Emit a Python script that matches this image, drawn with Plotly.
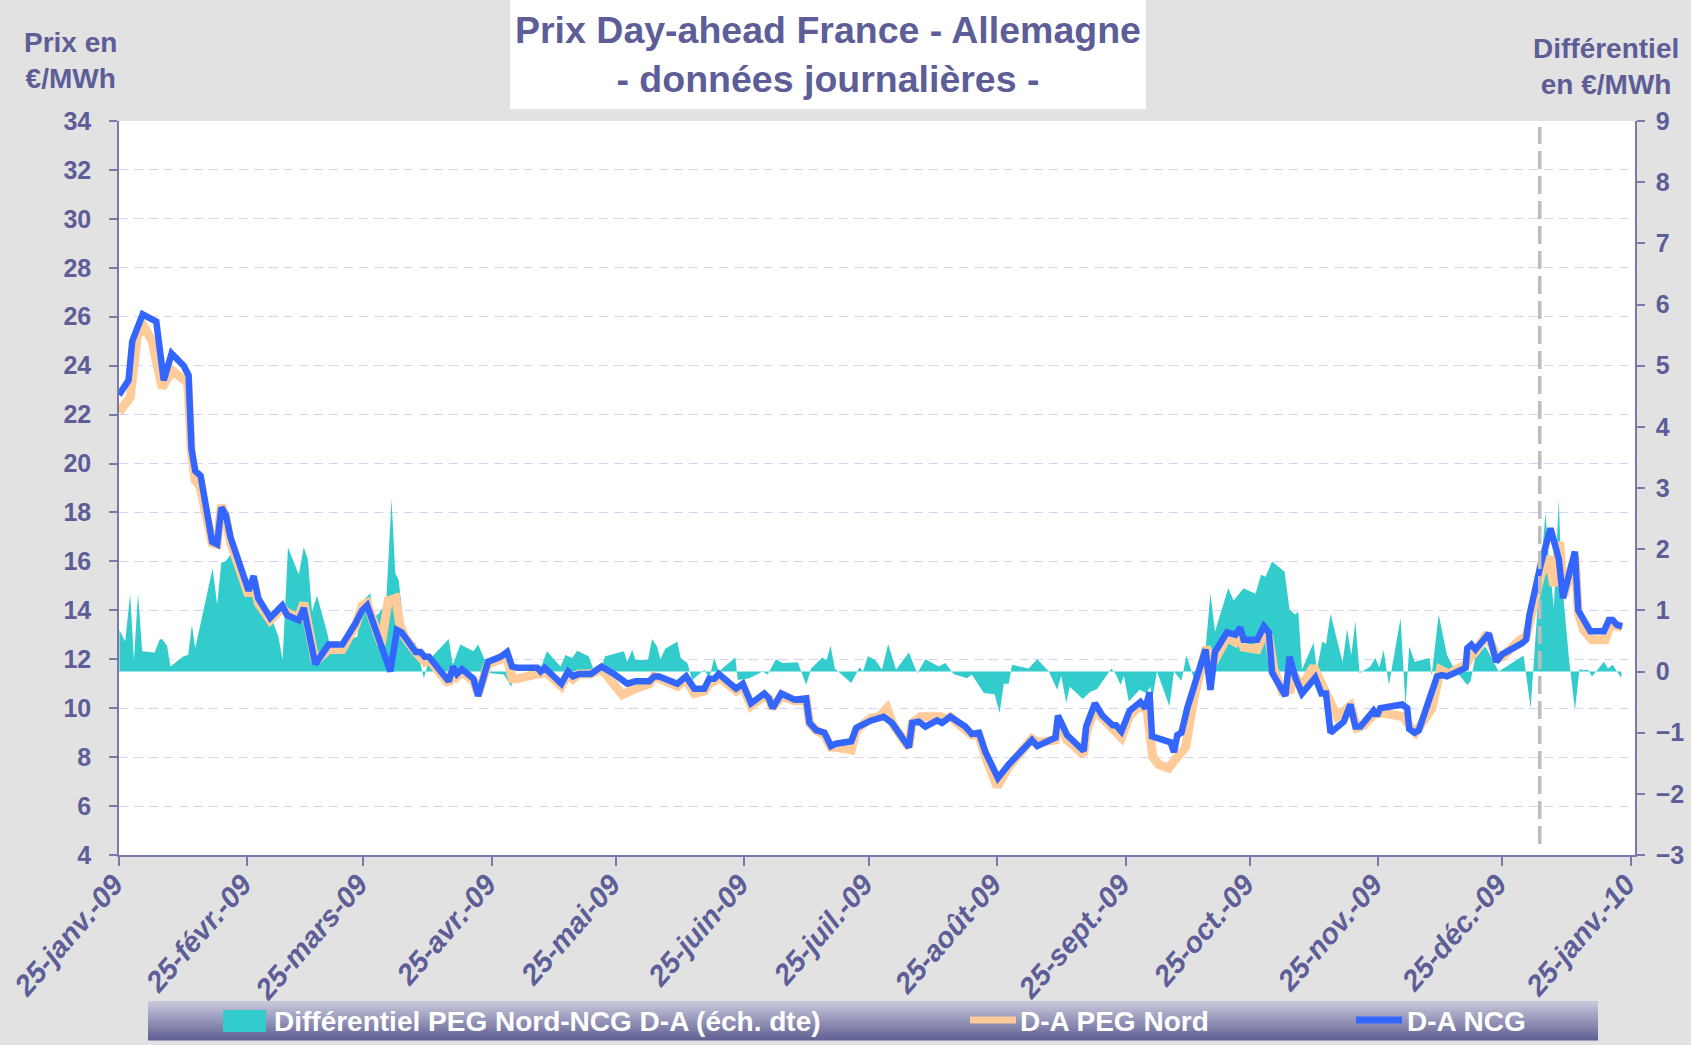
import pandas as pd
import plotly.graph_objects as go

# ---------------- data ----------------
START = "2009-01-25"          # day 0 of the offsets below
END = "2010-01-26"

ncg_day = [0.0, 1.1, 2.3, 3.2, 5.7, 9.0, 10.8, 12.7, 15.6, 16.8, 17.5, 18.4, 19.7, 22.5, 23.7, 24.7, 25.8, 26.9,
           29.1, 31.3, 32.5, 33.6, 36.5, 39.4, 40.6, 43.4, 44.6, 47.4, 50.6, 53.9, 57.2, 58.7, 59.9, 65.5, 67.1,
           68.2, 69.5, 71.6, 72.8, 73.8, 74.8, 79.6, 80.6, 81.6, 82.8, 85.6, 86.7, 87.6, 89.1, 92.1, 93.7, 94.9,
           96.1, 101.0, 101.8, 102.8, 104.2, 106.8, 108.4, 109.6, 111.0, 113.9, 116.5, 119.5, 122.7, 124.7, 128.0,
           129.2, 130.4, 134.8, 136.9, 138.9, 141.3, 142.5, 143.7, 144.8, 149.0, 150.6, 152.6, 155.8, 156.9, 157.8,
           159.9, 163.1, 165.9, 166.7, 168.3, 170.3, 171.9, 173.1, 176.8, 178.0, 180.4, 181.6, 184.6, 186.6, 190.7,
           191.5, 193.1, 194.7, 197.5, 198.7, 200.7, 204.3, 205.9, 207.6, 209.2, 212.2, 214.8, 220.4, 221.7, 226.1,
           226.7, 228.9, 232.9, 233.5, 235.6, 237.4, 239.9, 240.7, 242.0, 244.0, 246.6, 247.8, 248.8, 249.4, 253.9,
           254.7, 255.5, 256.5, 257.9, 260.3, 262.3, 263.5, 264.6, 267.5, 269.5, 270.7, 271.5, 274.8, 276.4, 277.6,
           278.4, 281.6, 282.6, 284.0, 285.6, 288.8, 290.3, 291.4, 292.5, 295.7, 297.3, 298.5, 299.7, 302.9, 303.7,
           304.5, 309.8, 311.0, 311.5, 312.8, 313.8, 318.2, 319.4, 320.6, 325.1, 325.5, 326.5, 327.5, 330.7, 332.5,
           333.9, 338.7, 339.7, 340.5, 343.2, 345.6, 347.6, 348.6, 351.5, 352.3, 353.2, 355.2, 358.5, 359.7, 360.6,
           361.7, 362.9]
ncg_val = [22.8, 23.1, 23.4, 25.0, 26.1, 25.8, 23.4, 24.5, 24.0, 23.6, 20.6, 19.7, 19.5, 16.8, 16.7, 18.2, 17.9, 17.0,
           15.9, 14.8, 15.4, 14.5, 13.7, 14.2, 13.8, 13.6, 14.1, 11.8, 12.6, 12.6, 13.5, 14.0, 14.2, 11.5, 13.2,
           13.1, 12.8, 12.3, 12.3, 12.1, 12.1, 11.1, 11.7, 11.4, 11.6, 11.2, 10.5, 11.0, 11.9, 12.1, 12.3, 11.7,
           11.65, 11.65, 11.5, 11.65, 11.4, 11.0, 11.5, 11.3, 11.4, 11.4, 11.7, 11.4, 11.0, 11.1, 11.1,
           11.3, 11.3, 11.0, 11.3, 10.8, 10.8, 11.2, 11.2, 11.4, 10.8, 11.0, 10.2, 10.6, 10.4, 10.0,
           10.6, 10.35, 10.4, 9.4, 9.1, 9.0, 8.45, 8.55, 8.65, 9.2, 9.4, 9.5, 9.65, 9.4, 8.4,
           9.4, 9.45, 9.25, 9.5, 9.4, 9.65, 9.25, 8.95, 9.0, 8.2, 7.15, 7.7, 8.7, 8.45, 8.8,
           9.7, 8.9, 8.25, 9.25, 10.2, 9.7, 9.3, 9.3, 9.05, 9.9, 10.25, 10.0, 10.65, 8.85, 8.6,
           8.2, 8.9, 9.0, 10.0, 11.25, 12.4, 10.75, 12.3, 13.1, 13.0, 13.3, 12.8, 12.8, 13.35, 13.1,
           11.45, 10.5, 12.1, 11.25, 10.6, 11.25, 10.6, 10.6, 9.0, 9.45, 10.15, 9.25, 9.25, 9.9, 9.7,
           10.0, 10.15, 10.0, 9.15, 9.0, 9.1, 11.3, 11.35, 11.3, 11.65, 12.45, 12.6, 12.4, 13.05, 11.9,
           12.2, 12.65, 12.8, 13.8, 15.85, 17.35, 16.1, 14.5, 16.4, 14.0, 13.7, 13.15, 13.15, 13.6, 13.6,
           13.4, 13.35]

peg_day = [0.0, 2.7, 4.4, 6.0, 8.0, 10.4, 12.8, 15.6, 16.6, 17.5, 18.4, 19.5, 22.5, 23.7, 24.7, 25.8, 26.9,
           29.1, 31.3, 32.5, 33.6, 36.5, 39.4, 40.6, 43.4, 44.6, 47.4, 50.6, 53.9, 57.2, 58.7, 59.9, 63.3, 65.0,
           66.8, 67.8, 69.0, 71.6, 72.8, 73.8, 74.8, 79.6, 80.6, 81.6, 82.8, 85.6, 86.7, 87.6, 89.1, 92.1, 93.7,
           94.9, 96.1, 101.0, 101.8, 102.8, 104.2, 106.8, 108.4, 109.6, 111.0, 113.9, 116.5, 119.5, 121.5, 124.7,
           128.0, 129.2, 130.4, 134.8, 136.9, 138.9, 141.3, 142.5, 143.7, 144.8, 149.0, 150.6, 152.6, 155.8, 156.9,
           157.8, 159.9, 163.1, 165.9, 166.7, 168.3, 170.3, 171.9, 173.1, 176.8, 178.0, 180.4, 181.6, 183.5, 185.4,
           186.8, 190.7, 191.5, 193.5, 198.4, 199.5, 200.7, 204.3, 205.9, 207.6, 209.2, 212.0, 214.8, 220.4, 221.7,
           226.1, 226.9, 228.9, 232.9, 233.5, 235.6, 237.4, 239.9, 240.7, 242.0, 244.0, 246.6, 248.2, 249.6, 251.0,
           253.4, 255.0, 256.3, 257.5, 259.5, 261.5, 262.5, 264.0, 265.0, 267.5, 269.5, 270.7, 271.5, 274.8, 276.4,
           277.6, 278.8, 280.8, 282.8, 283.6, 285.6, 288.4, 290.9, 294.1, 297.3, 298.9, 300.5, 302.9, 305.3, 310.2,
           311.8, 313.0, 317.0, 319.0, 321.0, 325.3, 326.3, 327.5, 330.3, 332.7, 334.0, 338.3, 339.7, 340.5, 343.2,
           345.2, 346.4, 347.8, 348.8, 351.5, 352.3, 353.6, 355.6, 358.8, 359.8, 361.0, 362.9]
peg_val = [22.1, 22.7, 25.2, 25.6, 25.0, 23.1, 23.8, 23.5, 23.3, 20.4, 19.3, 19.1, 16.75, 16.7, 18.3, 17.8, 16.8,
           15.7, 14.6, 15.2, 14.3, 13.6, 14.1, 13.9, 13.7, 14.3, 11.9, 12.4, 12.4, 13.4, 14.2, 14.3, 12.6, 14.4,
           14.5, 13.4, 12.9, 12.3, 12.1, 11.9, 12.0, 11.0, 11.6, 11.3, 11.5, 11.1, 10.6, 11.0, 11.8, 12.0, 12.1,
           11.2, 11.2, 11.4, 11.4, 11.5, 11.3, 10.9, 11.4, 11.2, 11.4, 11.4, 11.6, 11.0, 10.55, 10.8,
           11.0, 11.3, 11.2, 10.9, 11.2, 10.6, 10.7, 11.0, 11.1, 11.3, 10.7, 10.9, 10.1, 10.5, 10.4,
           10.0, 10.5, 10.3, 10.35, 9.4, 9.1, 8.9, 8.4, 8.4, 8.3, 9.1, 9.45, 9.6, 9.65, 10.0,
           9.35, 8.4, 9.4, 9.65, 9.65, 9.55, 9.65, 9.2, 8.9, 8.9, 8.0, 6.8, 7.6, 8.75, 8.6,
           8.7, 9.5, 8.7, 8.1, 9.0, 10.0, 9.6, 9.1, 9.0, 8.8, 9.7, 10.1, 9.9, 8.0, 7.7,
           7.55, 7.9, 8.2, 8.4, 10.4, 11.8, 12.5, 11.8, 12.1, 12.9, 12.7, 13.0, 12.5, 12.4, 13.1,
           12.9, 11.6, 10.7, 10.75, 11.4, 10.9, 11.7, 10.8, 9.66, 10.1, 9.2, 9.3, 9.75, 9.8, 9.65,
           9.2, 9.0, 10.0, 11.57, 11.4, 11.8, 12.1, 12.3, 13.06, 12.04, 12.1, 12.8, 12.9, 13.4, 15.4,
           16.2, 15.0, 16.8, 14.6, 16.2, 13.9, 13.2, 12.8, 12.8, 13.3, 13.4, 13.3]

diff_day = [0.1, 1.5, 2.7, 3.6, 4.6, 5.6, 8.6, 9.8, 10.4, 11.6, 12.4, 15.6, 16.7, 17.6, 18.4, 22.6, 23.7, 24.7,
            25.7, 26.9, 29.5, 33.0, 36.5, 38.5, 39.5, 40.8, 43.4, 44.6, 45.6, 46.6, 47.8, 50.2, 51.3, 53.9, 55.5,
            57.5, 59.1, 60.7, 61.3, 62.7, 64.5, 65.8, 66.7, 67.5, 69.1, 71.6, 73.6, 74.8, 79.6, 80.6, 82.4, 85.6,
            86.7, 88.5, 89.7, 92.9, 94.7, 95.5, 101.5, 103.3, 106.6, 107.8, 109.4, 110.6, 113.4, 114.6, 115.8,
            117.4, 121.9, 122.7, 123.9, 124.7, 127.7, 128.7, 129.9, 130.7, 131.9, 134.8, 135.6, 137.2, 138.4,
            141.3, 142.5, 143.7, 144.8, 148.8, 149.4, 152.2, 155.4, 156.6, 158.6, 160.2, 163.9, 165.9, 167.1,
            169.8, 170.8, 171.8, 172.8, 176.8, 178.8, 179.6, 180.8, 182.6, 184.2, 185.7, 187.6, 190.7, 192.7,
            194.7, 197.9, 199.5, 201.5, 204.7, 205.9, 208.8, 211.4, 212.6, 213.6, 214.8, 215.6, 219.6, 221.7,
            224.5, 226.5, 227.5, 228.7, 229.5, 232.7, 234.5, 236.1, 239.6, 240.7, 241.8, 242.6, 243.8, 246.4,
            248.0, 249.0, 249.4, 250.6, 253.6, 254.7, 256.5, 257.7, 259.5, 261.1, 262.3, 263.5, 264.6, 267.8,
            269.1, 271.5, 274.4, 275.7, 276.8, 278.4, 281.4, 282.6, 284.0, 284.7, 285.6, 288.4, 289.2, 290.5,
            291.4, 292.5, 295.4, 296.5, 297.5, 298.5, 299.5, 302.1, 303.3, 304.3, 305.3, 306.6, 309.4, 310.6,
            311.5, 312.8, 316.4, 316.9, 318.6, 320.6, 322.5, 325.5, 326.3, 327.5, 329.9, 333.1, 339.1, 340.8,
            342.6, 344.4, 345.2, 346.4, 347.6, 348.2, 350.0, 351.5, 352.6, 353.6, 354.7, 355.6, 358.5, 359.5,
            360.6, 362.7]
diff_val = [0.68, 0.49, 1.27, 0.19, 1.27, 0.33, 0.31, 0.52, 0.53, 0.42, 0.08, 0.25, 0.27, 0.76, 0.38, 1.69, 1.09, 1.78,
            1.80, 1.91, 1.60, 1.20, 0.93, 0.57, 0.19, 2.03, 1.58, 2.03, 1.83, 0.98, 1.24, 0.65, 0.30, 0.35, 0.52,
            0.57, 1.17, 1.28, 0.87, 0.95, 1.12, 2.82, 1.61, 1.50, 0.54, 0.46, -0.11, 0.19, 0.53, 0.11, 0.44, 0.33,
            0.44, 0.14, -0.03, -0.05, -0.25, 0.0, 0.0, 0.33, 0.08, 0.27, 0.22, 0.34, 0.25, 0.03, -0.03,
            0.25, 0.33, 0.16, 0.35, 0.19, 0.19, 0.53, 0.41, 0.20, 0.37, 0.49, 0.22, 0.14, -0.14,
            0.03, -0.11, 0.22, 0.0, 0.23, -0.14, -0.11, 0.0, -0.05, 0.20, 0.14, 0.15, -0.22, 0.05,
            0.23, 0.18, 0.42, 0.05, -0.19, 0.07, 0.0, 0.25, 0.19, 0.03, 0.45, 0.03, 0.31, -0.03,
            0.20, 0.08, 0.14, -0.04, -0.11, -0.05, -0.35, -0.37, -0.68, -0.20, -0.20, 0.11, 0.05, 0.20,
            0.0, -0.30, -0.07, -0.52, -0.25, -0.45, -0.33, -0.29, 0.05, -0.05, -0.22, -0.07, -0.49, -0.30,
            -0.35, -0.25, -0.47, 0.0, -0.57, 0.0, -0.15, 0.26, -0.11, 0.19, 0.35, 1.28, 0.65, 1.36,
            1.16, 1.36, 1.27, 1.58, 1.55, 1.80, 1.63, 1.01, 0.93, 0.98, 0.03, 0.47, 0.03, 0.49,
            0.45, 0.94, 0.15, 0.69, 0.27, 0.82, -0.03, 0.08, 0.22, 0.07, 0.35, -0.22, 0.87, -0.57,
            0.41, 0.16, 0.22, -0.07, 0.93, 0.27, 0.03, -0.22, -0.16, 0.25, 0.41, 0.0, 0.26, -0.60,
            1.17, 2.59, 1.85, 1.04, 2.82, 1.61, 0.25, -0.63, 0.04, 0.02, 0.03, -0.08, 0.16, 0.05,
            0.11, -0.11]

tick_dates = ["2009-01-25", "2009-02-25", "2009-03-25", "2009-04-25", "2009-05-25", "2009-06-25", "2009-07-25",
              "2009-08-25", "2009-09-25", "2009-10-25", "2009-11-25", "2009-12-25", "2010-01-25"]
tick_labels = ["25-janv.-09", "25-févr.-09", "25-mars-09", "25-avr.-09", "25-mai-09", "25-juin-09", "25-juil.-09",
               "25-août-09", "25-sept.-09", "25-oct.-09", "25-nov.-09", "25-déc.-09", "25-janv.-10"]
price_ticks = list(range(4, 35, 2))
diff_ticks = list(range(-3, 10))
marker_date = "2010-01-03"

# ---------------- styling ----------------
FONT = "Liberation Sans, Arial, sans-serif"
TXT = "#5d5d97"
AX = "#7a7aaa"
GRID = "#d3d3fb"
TEAL = "#33CCCC"
PEACH = "#FFCC99"
BLUE = "#3366FF"

W, H = 1691, 1045
L, R, T, B = 119, 56, 121, 190
PW, PH = W - L - R, H - T - B


def px(x):
    return (x - L) / PW


def py(y):
    return (H - B - y) / PH


base = pd.Timestamp(START)


def to_dates(days):
    return [base + pd.Timedelta(days=d) for d in days]


fig = go.Figure()
fig.add_trace(go.Scatter(x=to_dates(diff_day), y=diff_val, name="Différentiel PEG Nord-NCG D-A (éch. dte)",
                         mode="lines", fill="tozeroy", fillcolor=TEAL, line=dict(width=0, color=TEAL),
                         yaxis="y", showlegend=False))
fig.add_trace(go.Scatter(x=to_dates(peg_day), y=peg_val, name="D-A PEG Nord", mode="lines",
                         line=dict(color=PEACH, width=9), yaxis="y2", showlegend=False))
fig.add_trace(go.Scatter(x=to_dates(ncg_day), y=ncg_val, name="D-A NCG", mode="lines",
                         line=dict(color=BLUE, width=6.5), yaxis="y2", showlegend=False))

tickfont = dict(family=FONT, size=25, color=TXT, weight="bold")

shapes = []
# title box
shapes.append(dict(type="rect", xref="paper", yref="paper", x0=px(510), x1=px(1146), y0=py(109), y1=py(-2),
                   fillcolor="white", line=dict(width=0), layer="below"))
# vertical dashed marker
shapes.append(dict(type="line", xref="x", yref="y2", x0=marker_date, x1=marker_date, y0=4.45, y1=33.75,
                   line=dict(color="#bdbdbd", width=3.5, dash="18px,7px"), layer="above"))
# legend gradient band
n = 26
top_c = (200, 200, 221)
bot_c = (98, 98, 148)
y_top, y_bot = 1001, 1040
for i in range(n):
    t = i / (n - 1)
    c = tuple(round(top_c[k] + (bot_c[k] - top_c[k]) * t) for k in range(3))
    ya = y_top + (y_bot - y_top) * i / n
    yb = y_top + (y_bot - y_top) * (i + 1) / n
    shapes.append(dict(type="rect", xref="paper", yref="paper", x0=px(148), x1=px(1598), y0=py(yb + 0.5), y1=py(ya),
                       fillcolor="rgb(%d,%d,%d)" % c, line=dict(width=0)))
# legend swatches
shapes.append(dict(type="rect", xref="paper", yref="paper", x0=px(223), x1=px(266), y0=py(1032), y1=py(1010),
                   fillcolor=TEAL, line=dict(width=0)))
shapes.append(dict(type="line", xref="paper", yref="paper", x0=px(970), x1=px(1016), y0=py(1020), y1=py(1020),
                   line=dict(color=PEACH, width=7)))
shapes.append(dict(type="line", xref="paper", yref="paper", x0=px(1356), x1=px(1402), y0=py(1020), y1=py(1020),
                   line=dict(color=BLUE, width=7)))

ann = []
ann.append(dict(text="Prix Day-ahead France - Allemagne<br>- données journalières -", xref="paper", yref="paper",
                x=px(828), y=py(54), xanchor="center", yanchor="middle", showarrow=False,
                font=dict(family=FONT, size=37.5, color=TXT, weight="bold")))
ann.append(dict(text="Prix en<br>€/MWh", xref="paper", yref="paper", x=px(70), y=py(61), xanchor="center",
                yanchor="middle", showarrow=False, font=dict(family=FONT, size=28, color=TXT, weight="bold")))
ann.append(dict(text="Différentiel<br>en €/MWh", xref="paper", yref="paper", x=px(1606), y=py(66), xanchor="center",
                yanchor="middle", showarrow=False, font=dict(family=FONT, size=28, color=TXT, weight="bold")))
leg_font = dict(family=FONT, size=28, color="white", weight="bold")
for txt, xx in [("Différentiel PEG Nord-NCG D-A (éch. dte)", 272), ("D-A PEG Nord", 1018), ("D-A NCG", 1405)]:
    ann.append(dict(text=txt, xref="paper", yref="paper", x=px(xx), y=py(1021), xanchor="left", yanchor="middle",
                    showarrow=False, font=leg_font))

fig.update_layout(
    width=W, height=H,
    margin=dict(l=L, r=R, t=T, b=B, autoexpand=False),
    paper_bgcolor="#e2e2e2",
    plot_bgcolor="white",
    showlegend=False,
    shapes=shapes,
    annotations=ann,
    xaxis=dict(type="date", range=[START, END], tickmode="array", tickvals=tick_dates, ticktext=tick_labels,
               tickangle=-49, tickfont=dict(family=FONT, size=29, color=TXT, weight="bold", style="italic"),
               ticks="outside", ticklen=9, tickwidth=1.5, tickcolor=AX, showline=True, linecolor=AX, linewidth=1.5,
               showgrid=False, zeroline=False, ticklabelstandoff=-10, ticklabelshift=-5),
    yaxis=dict(range=[-3, 9], tickmode="array", tickvals=diff_ticks, side="right", tickfont=tickfont,
               ticks="outside", ticklen=8, tickwidth=1.5, tickcolor=AX, showline=True, linecolor=AX, linewidth=1.5,
               showgrid=False, zeroline=False, ticklabelstandoff=6),
    yaxis2=dict(range=[4, 34], tickmode="array", tickvals=price_ticks, side="left", overlaying="y",
                tickfont=tickfont, ticks="outside", ticklen=8, tickwidth=1.5, tickcolor=AX, showline=True,
                linecolor=AX, linewidth=1.5, showgrid=True, gridcolor=GRID, gridwidth=1, griddash="9px,6px",
                zeroline=False, ticklabelstandoff=13),
)

fig.write_html("out.html", config={"displayModeBar": False},
               post_script="document.body.style.margin='0px';document.body.style.overflow='hidden';")
